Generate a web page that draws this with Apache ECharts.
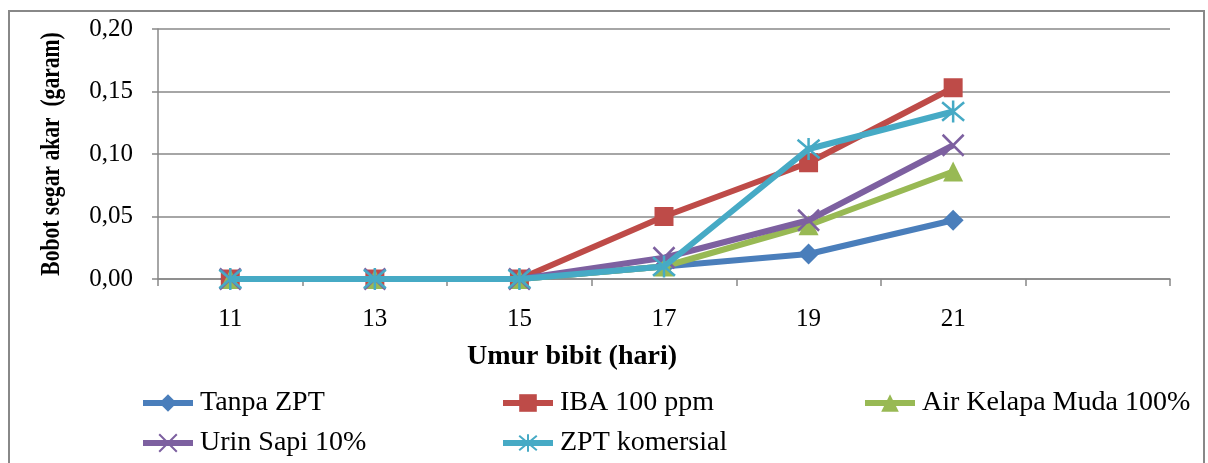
<!DOCTYPE html>
<html><head><meta charset="utf-8">
<script src="https://cdn.jsdelivr.net/npm/echarts@6/dist/echarts.min.js"></script>
<style>html,body{margin:0;padding:0;background:#fff}#c{width:1208px;height:463px}</style>
</head><body><div id="c"></div>
<script>
const categories = ['11','13','15','17','19','21',''];
const tanpaZPT = [0, 0, 0, 0.010, 0.020, 0.047];
const iba100 = [0, 0, 0, 0.050, 0.093, 0.153];
const airKelapa = [0, 0, 0, 0.010, 0.043, 0.086];
const urinSapi = [0, 0, 0, 0.017, 0.047, 0.107];
const zptKomersial = [0, 0, 0, 0.010, 0.104, 0.134];
const seriesNames = ['Tanpa ZPT','IBA 100 ppm','Air Kelapa Muda 100%','Urin Sapi 10%','ZPT komersial'];
const yTicks = [0, 0.05, 0.10, 0.15, 0.20];

const colors = ['#4a7ebb','#be4b48','#98b954','#7d60a0','#46aac5'];
const serif = '"Liberation Serif","DejaVu Serif",serif';
const xPath = 'path://M0,0L10,10M10,0L0,10';
const starPath = 'path://M0,0L10,10M10,0L0,10M5,-1L5,11';

const dataArr = [tanpaZPT, iba100, airKelapa, urinSapi, zptKomersial];
const symbols = ['diamond','rect','triangle', xPath, starPath];
const sizes = [21, 19, 20, 21, 22];

const series = dataArr.map((d, i) => {
  const stroke = i >= 3;
  return {
    name: seriesNames[i], type: 'line', data: d,
    symbol: symbols[i], symbolSize: sizes[i],
    lineStyle: {color: colors[i], width: 6},
    itemStyle: stroke ? {color: 'rgba(0,0,0,0)', borderColor: colors[i], borderWidth: 2.5} : {color: colors[i]},
    z: 2 + i, animation: false
  };
});

const legendPos = [[140,389],[500,389],[862,389],[140,429],[500,429]];
const legends = seriesNames.map((n, i) => ({
  data: [n], left: legendPos[i][0], top: legendPos[i][1],
  itemWidth: 50, itemHeight: 22, padding: 0,
  lineStyle: {width: 6},
  textStyle: {fontFamily: serif, fontSize: 28, color: '#000', padding: [0,0,0,2]},
  selectedMode: false
}));

const chart = echarts.init(document.getElementById('c'));
chart.setOption({
  animation: false,
  color: colors,
  grid: {left: 158, right: 38, top: 29, bottom: 184},
  legend: legends,
  xAxis: {
    type: 'category', data: categories, boundaryGap: true,
    axisLine: {lineStyle: {color: '#888', width: 1.5}},
    axisTick: {show: true, length: 7, interval: 0, lineStyle: {color: '#888', width: 1.5}},
    axisLabel: {fontFamily: serif, fontSize: 25, color: '#000', margin: 28, interval: 0}
  },
  yAxis: {
    type: 'value', min: 0, max: 0.2, interval: 0.05,
    axisLine: {show: true, lineStyle: {color: '#888', width: 1.5}},
    axisTick: {show: true, length: 6, lineStyle: {color: '#888', width: 1.5}},
    splitLine: {lineStyle: {color: '#888', width: 1.5}},
    axisLabel: {fontFamily: serif, fontSize: 25, color: '#000', margin: 25,
      formatter: v => v.toFixed(2).replace('.', ',')}
  },
  graphic: [
    {type: 'rect', shape: {x: 9, y: 11, width: 1195, height: 470}, style: {fill: 'none', stroke: '#888', lineWidth: 2}, silent: true},
    {type: 'text', x: 52, y: 154, rotation: Math.PI/2, scaleX: 0.8, style: {text: 'Bobot segar akar  (garam)', fontFamily: serif, fontSize: 27, fontWeight: 'bold', fill: '#000', align: 'center', verticalAlign: 'middle'}},
    {type: 'text', x: 572, y: 357, style: {text: 'Umur bibit (hari)', fontFamily: serif, fontSize: 28, fontWeight: 'bold', fill: '#000', align: 'center', verticalAlign: 'middle'}}
  ],
  series: series
});
</script></body></html>
